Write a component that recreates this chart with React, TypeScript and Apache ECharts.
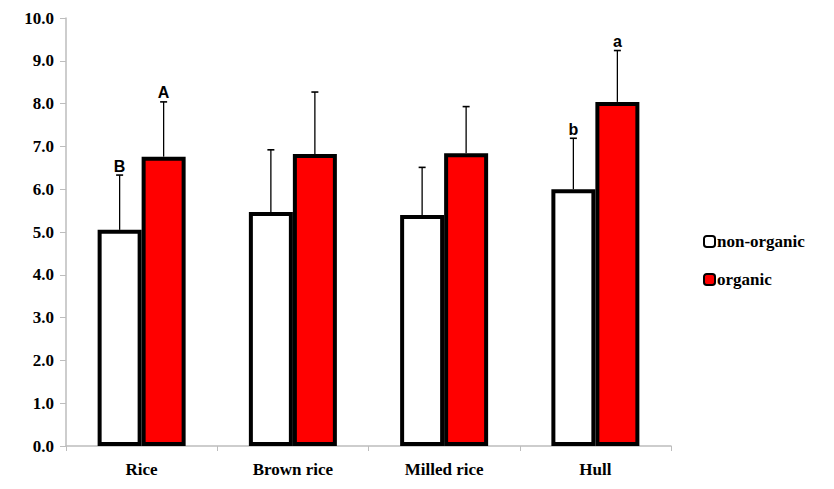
import React, { useEffect, useRef } from "react";
import * as echarts from "echarts";

const categories = ["Rice", "Brown rice", "Milled rice", "Hull"];
const nonOrganic = [5.05, 5.47, 5.4, 6.0];
const organic = [6.76, 6.82, 6.84, 8.04];
const nonOrganicErr = [1.28, 1.45, 1.11, 1.19];
const organicErr = [1.28, 1.45, 1.09, 1.2];
const nonOrganicLetters = ["B", "", "", "b"];
const organicLetters = ["A", "", "", "a"];
const yTicks = [0, 1, 2, 3, 4, 5, 6, 7, 8, 9, 10];

const BAR_W = 44;
const SERIF = "'Times New Roman', 'Liberation Serif', 'DejaVu Serif', serif";

function errorSeries(name: string, values: number[], errs: number[], letters: string[], offset: number) {
  return {
    type: "custom",
    name: name + "-err",
    z: 1,
    silent: true,
    data: values.map((v, i) => [i, v, v + errs[i]]),
    renderItem: (params: any, api: any) => {
      const base = api.coord([api.value(0), api.value(1)]);
      const top = api.coord([api.value(0), api.value(2)]);
      const x = base[0] + offset;
      const children: any[] = [
        { type: "line", shape: { x1: x, y1: base[1], x2: x, y2: top[1] }, style: { stroke: "#000", lineWidth: 1.3 } },
        { type: "line", shape: { x1: x - 3.5, y1: top[1], x2: x + 3.5, y2: top[1] }, style: { stroke: "#000", lineWidth: 1.6 } },
      ];
      const letter = letters[params.dataIndex];
      if (letter) {
        children.push({
          type: "text",
          style: {
            text: letter,
            x: x,
            y: top[1] - 1,
            align: "center",
            verticalAlign: "bottom",
            fill: "#000",
            fontFamily: "Liberation Sans",
            fontWeight: "bold",
            fontSize: 16,
          },
        });
      }
      return { type: "group", children };
    },
  };
}

export default function App() {
  const ref = useRef<HTMLDivElement>(null);
  useEffect(() => {
    if (!ref.current) return;
    const chart = echarts.init(ref.current, undefined, { renderer: "svg" });
    chart.setOption({
      animation: false,
      backgroundColor: "#fff",
      textStyle: { fontFamily: SERIF },
      grid: { left: 66, right: 163, top: 18, bottom: 43 },
      legend: {
        orient: "vertical",
        left: 698,
        top: 228,
        itemWidth: 11,
        itemHeight: 11,
        itemGap: 21,
        data: ["non-organic", "organic"],
        textStyle: { fontFamily: SERIF, fontWeight: "bold", fontSize: 17, color: "#000", padding: [0, 0, 0, -3] },
      },
      xAxis: {
        type: "category",
        data: categories,
        axisLine: { lineStyle: { color: "#bdbdbd", width: 1.5 } },
        axisTick: { show: true, alignWithLabel: false, length: 5, lineStyle: { color: "#bdbdbd" } },
        axisLabel: { margin: 15, fontFamily: SERIF, fontWeight: "bold", fontSize: 17, color: "#000" },
      },
      yAxis: {
        type: "value",
        min: 0,
        max: 10,
        interval: 1,
        axisLine: { show: true, lineStyle: { color: "#bdbdbd", width: 1.5 } },
        axisTick: { show: true, length: 6, lineStyle: { color: "#bdbdbd" } },
        splitLine: { show: false },
        axisLabel: {
          margin: 12,
          fontFamily: SERIF,
          fontWeight: "bold",
          fontSize: 17,
          color: "#000",
          formatter: (v: number) => (yTicks.includes(v) ? v.toFixed(1) : ""),
        },
      },
      series: [
        errorSeries("non-organic", nonOrganic, nonOrganicErr, nonOrganicLetters, -BAR_W / 2),
        errorSeries("organic", organic, organicErr, organicLetters, BAR_W / 2),
        {
          type: "bar",
          name: "non-organic",
          data: nonOrganic,
          barWidth: BAR_W,
          barGap: "0%",
          z: 3,
          itemStyle: { color: "#ffffff", borderColor: "#000", borderWidth: 4 },
        },
        {
          type: "bar",
          name: "organic",
          data: organic,
          barWidth: BAR_W,
          barGap: "0%",
          z: 3,
          itemStyle: { color: "#ff0000", borderColor: "#000", borderWidth: 4 },
        },
      ],
    });
    return () => chart.dispose();
  }, []);
  return <div ref={ref} style={{ width: 834, height: 489, position: "absolute", left: 0, top: 0 }} />;
}
